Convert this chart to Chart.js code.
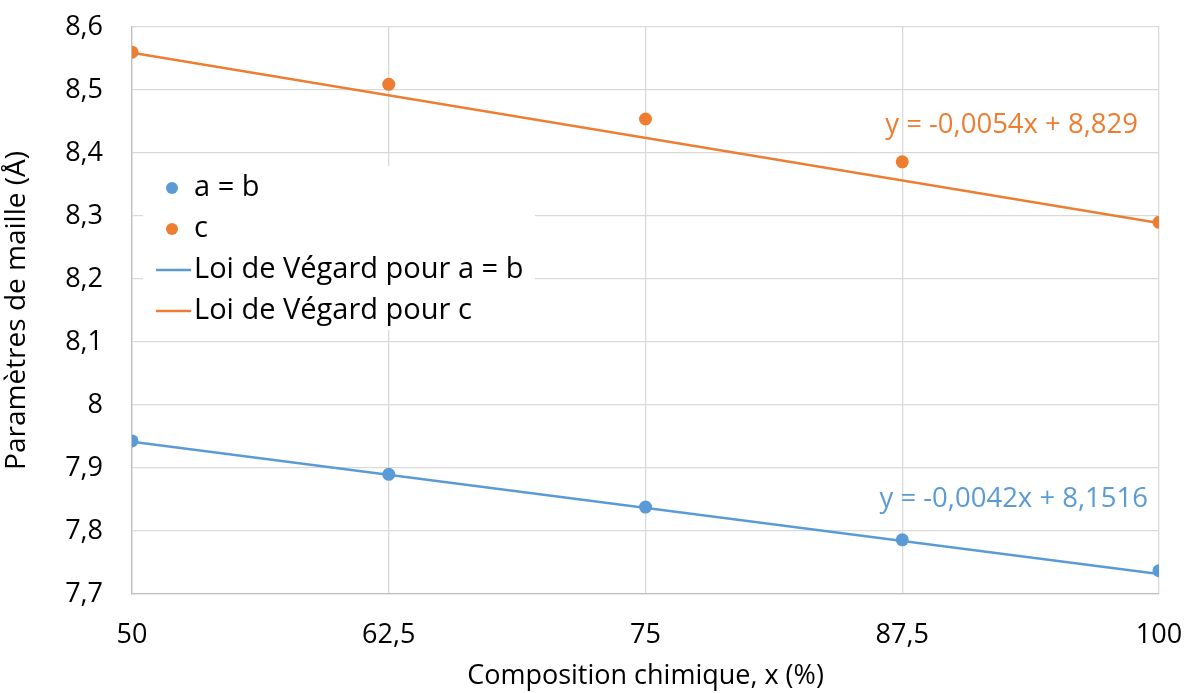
<!DOCTYPE html>
<html><head><meta charset="utf-8">
<script src="https://cdn.jsdelivr.net/npm/chart.js@4"></script>
<style>html,body{margin:0;padding:0;background:#fff}#wrap{width:1191px;height:693px;position:relative}</style>
</head><body><div id="wrap"><canvas id="c" width="1191" height="693"></canvas></div>
<script>
const compositions = [50, 62.5, 75, 87.5, 100];
const aValues = [7.943, 7.890, 7.838, 7.786, 7.737];
const cValues = [8.560, 8.509, 8.454, 8.386, 8.290];
const trendA = { slope: -0.0042, intercept: 8.1516, label: 'y = -0,0042x + 8,1516' };
const trendC = { slope: -0.0054, intercept: 8.829, label: 'y = -0,0054x + 8,829' };
const xTicks = [50, 62.5, 75, 87.5, 100];
const yTicks = [7.7, 7.8, 7.9, 8, 8.1, 8.2, 8.3, 8.4, 8.5, 8.6];
const seriesLabels = ['a = b', 'c', 'Loi de Végard pour a = b', 'Loi de Végard pour c'];

const BLUE = '#5b9bd5', ORANGE = '#ed7d31';
const FONT = '"Open Sans", sans-serif';
const fmt = v => String(Number(v.toFixed(2))).replace('.', ',');

const pts = vals => compositions.map((x, i) => ({ x, y: vals[i] }));
const trendPts = t => [compositions[0], compositions[compositions.length - 1]].map(x => ({ x, y: t.slope * x + t.intercept }));

const legendPlugin = {
  id: 'insideLegend',
  beforeDatasetsDraw(chart) {
    const ctx = chart.ctx;
    ctx.save();
    ctx.fillStyle = '#fff';
    ctx.fillRect(143, 166, 392, 164);
    ctx.font = '29px ' + FONT;
    ctx.textBaseline = 'middle';
    const rows = [188, 229, 270, 311];
    const colors = [BLUE, ORANGE, BLUE, ORANGE];
    seriesLabels.forEach((lab, i) => {
      const y = rows[i];
      if (i < 2) {
        ctx.beginPath(); ctx.fillStyle = colors[i];
        ctx.arc(172, y, 6, 0, Math.PI * 2); ctx.fill();
      } else {
        ctx.beginPath(); ctx.strokeStyle = colors[i]; ctx.lineWidth = 2.5;
        ctx.moveTo(156, y); ctx.lineTo(191, y); ctx.stroke();
      }
      ctx.fillStyle = '#000';
      ctx.textAlign = 'left';
      ctx.fillText(lab, 194, y);
    });
    ctx.restore();
  },
  afterDatasetsDraw(chart) {
    const ctx = chart.ctx, xs = chart.scales.x, ys = chart.scales.y;
    ctx.save();
    ctx.font = '27.5px ' + FONT;
    ctx.textBaseline = 'middle';
    ctx.textAlign = 'right';
    ctx.fillStyle = ORANGE;
    ctx.fillText(trendC.label, xs.getPixelForValue(100) - 21, ys.getPixelForValue(8.444));
    ctx.fillStyle = BLUE;
    ctx.fillText(trendA.label, xs.getPixelForValue(100) - 11, ys.getPixelForValue(7.850));
    ctx.restore();
  }
};

new Chart(document.getElementById('c'), {
  type: 'scatter',
  data: {
    datasets: [
      { label: seriesLabels[2], data: trendPts(trendA), showLine: true, borderColor: BLUE, borderWidth: 2.5, pointRadius: 0, order: 3 },
      { label: seriesLabels[3], data: trendPts(trendC), showLine: true, borderColor: ORANGE, borderWidth: 2.5, pointRadius: 0, order: 4 },
      { label: seriesLabels[0], data: pts(aValues), backgroundColor: BLUE, borderColor: BLUE, pointRadius: 6.5, pointBorderWidth: 0, order: 1 },
      { label: seriesLabels[1], data: pts(cValues), backgroundColor: ORANGE, borderColor: ORANGE, pointRadius: 6.5, pointBorderWidth: 0, order: 2 }
    ]
  },
  options: {
    responsive: false, animation: false,
    layout: { padding: { top: 27, right: 32, left: 0, bottom: 0 } },
    plugins: { legend: { display: false }, tooltip: { enabled: false } },
    scales: {
      x: {
        type: 'linear', min: 50, max: 100,
        afterBuildTicks: s => { s.ticks = xTicks.map(v => ({ value: v })); },
        afterFit: s => { s.height = 99; s.paddingLeft = 0; s.paddingRight = 0; },
        grid: { color: '#d9d9d9', lineWidth: 1.3, drawTicks: false },
        border: { color: '#bfbfbf', width: 1.3 },
        ticks: { padding: 25, color: '#000', font: { family: FONT, size: 27 }, callback: v => fmt(v), maxRotation: 0 },
        title: { display: true, text: 'Composition chimique, x (%)', color: '#000', font: { family: FONT, size: 27 }, padding: { top: 0, bottom: 0 } }
      },
      y: {
        min: 7.7, max: 8.6,
        afterBuildTicks: s => { s.ticks = yTicks.map(v => ({ value: v })); },
        afterFit: s => { s.width = 132; s.paddingTop = 0; s.paddingBottom = 0; },
        grid: { color: '#d9d9d9', lineWidth: 1.3, drawTicks: false },
        border: { color: '#bfbfbf', width: 1.3 },
        ticks: { padding: 29, color: '#000', font: { family: FONT, size: 27 }, callback: v => fmt(v) },
        title: { display: true, text: 'Paramètres de maille (Å)', color: '#000', font: { family: FONT, size: 28 }, padding: { top: 0, bottom: 0 } }
      }
    }
  },
  plugins: [legendPlugin]
});
</script></body></html>
